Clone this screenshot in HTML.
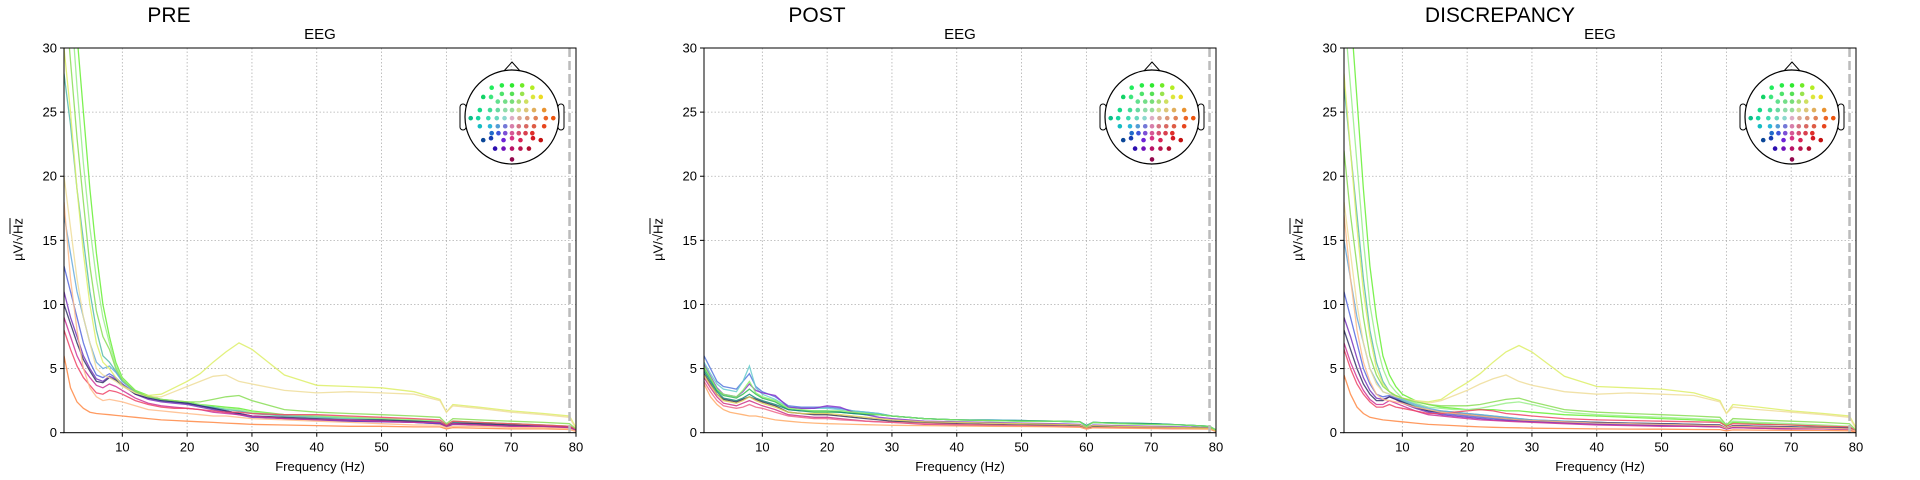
<!DOCTYPE html>
<html><head><meta charset="utf-8"><style>
body{margin:0;background:#fff;width:1920px;height:480px;overflow:hidden;font-family:"Liberation Sans",sans-serif}
svg{position:absolute;left:0;top:0}
.ylab{position:absolute;font-size:13px;transform:rotate(-90deg);transform-origin:center;white-space:nowrap;width:80px;text-align:center}
.ov{text-decoration:overline}
</style></head><body>
<svg id="chart" width="1920" height="480"></svg>
<div class="ylab" style="left:-22px;top:232px">µV/√<span class="ov">Hz</span></div>
<div class="ylab" style="left:618px;top:232px">µV/√<span class="ov">Hz</span></div>
<div class="ylab" style="left:1258px;top:232px">µV/√<span class="ov">Hz</span></div>
<script>
const freqs=[1,2,3,4,5,6,7,8,9,10,12,14,16,18,20,22,24,26,28,30,35,40,45,50,55,59,60,61,65,70,75,79,80];
const xTicks=[10,20,30,40,50,60,70,80];
const yTicks=[0,5,10,15,20,25,30];
const panelTitles=["PRE","POST","DISCREPANCY"];
const preColors=["#66ee33","#99ee88","#55bbaa","#66aadd","#5566dd","#7733bb","#333366","#cc3399","#ee4466","#ff8844","#ffbb88","#ddee66","#eedd99","#88dd55"];
const preValues=[
[45,38,31,25,19,14,10,7.5,5.5,4.3,3.3,2.9,2.6,2.5,2.4,2.2,2.1,2.0,1.9,1.7,1.4,1.3,1.2,1.1,1.0,0.9,0.6,0.9,0.8,0.7,0.6,0.5,0.3],
[40,34,27,21,16,12,9,7,5.2,4.2,3.2,2.8,2.6,2.5,2.3,2.2,2.0,1.9,1.8,1.6,1.4,1.3,1.2,1.1,1.0,0.9,0.6,0.8,0.8,0.7,0.6,0.5,0.2],
[28,24,19,15,11,8,6,5.5,4.8,4.0,3.2,2.8,2.6,2.4,2.3,2.1,2.0,1.8,1.7,1.5,1.3,1.2,1.1,1.0,0.9,0.8,0.5,0.8,0.7,0.6,0.5,0.4,0.2],
[17,14,11,9,7,5.5,5.0,5.2,4.7,4.0,3.2,2.8,2.5,2.4,2.3,2.1,1.9,1.7,1.5,1.3,1.1,1.0,0.9,0.9,0.8,0.7,0.5,0.7,0.6,0.5,0.5,0.4,0.2],
[13,11,9,7,5.5,4.5,4.3,4.6,4.3,3.8,3.1,2.7,2.5,2.4,2.3,2.1,1.9,1.7,1.5,1.3,1.1,1.0,0.9,0.9,0.8,0.7,0.5,0.7,0.6,0.5,0.5,0.4,0.2],
[11,9,7.5,6,5,4.2,4.0,4.4,4.2,3.8,3.0,2.6,2.4,2.3,2.2,2.0,1.8,1.6,1.4,1.2,1.1,1.0,0.9,0.85,0.8,0.7,0.45,0.65,0.6,0.5,0.45,0.4,0.2],
[10,8.5,7,5.7,4.8,4.0,3.9,4.3,4.1,3.7,3.0,2.7,2.5,2.4,2.3,2.1,1.9,1.7,1.5,1.3,1.2,1.1,1.0,1.0,0.9,0.8,0.5,0.75,0.7,0.6,0.5,0.45,0.2],
[9,7.5,6,5,4.3,3.7,3.5,3.8,3.6,3.3,2.7,2.3,2.1,2.0,1.9,1.8,1.6,1.5,1.4,1.3,1.1,1.0,1.0,0.9,0.8,0.8,0.5,0.7,0.6,0.5,0.5,0.4,0.2],
[8,6.5,5.2,4.3,3.7,3.1,3.0,3.3,3.2,3.0,2.5,2.2,2.0,1.9,1.9,1.8,1.7,1.6,1.6,1.5,1.4,1.4,1.3,1.2,1.1,1.0,0.6,0.9,0.8,0.7,0.6,0.5,0.3],
[6,3.5,2.4,1.9,1.6,1.5,1.45,1.4,1.35,1.3,1.2,1.1,1.0,0.95,0.9,0.85,0.8,0.75,0.7,0.65,0.6,0.55,0.5,0.5,0.45,0.45,0.3,0.4,0.35,0.3,0.3,0.25,0.1],
[18,12,8,5,3.5,2.8,2.5,2.6,2.5,2.4,2.1,1.8,1.7,1.6,1.5,1.4,1.3,1.3,1.2,1.1,1.0,0.9,0.8,0.7,0.6,0.6,0.4,0.5,0.5,0.4,0.4,0.3,0.1],
[30,25,19,14,10,7,5.5,5,4.3,3.7,3.1,2.9,3.0,3.5,4.0,4.6,5.5,6.3,7.0,6.5,4.5,3.7,3.6,3.5,3.2,2.6,1.6,2.2,2.0,1.7,1.5,1.3,0.4],
[20,16,12,9,7,5,4.5,4.3,4.0,3.6,3.1,2.8,2.8,3.2,3.6,4.0,4.4,4.5,4.0,3.8,3.3,3.1,3.2,3.1,3.0,2.5,1.6,2.1,1.9,1.6,1.4,1.2,0.3],
[35,29,23,18,13,9.5,7.5,6.5,5,4.1,3.2,2.8,2.6,2.5,2.4,2.4,2.6,2.8,2.9,2.5,1.8,1.6,1.5,1.4,1.3,1.2,0.7,1.1,1.0,0.9,0.8,0.7,0.3]];
const postColors=["#5577dd","#66cccc","#8833cc","#33bb55","#118877","#333355","#cc3388","#ee6688","#ffaa66","#ddcc55","#88ee66"];
const postValues=[
[6,5,4,3.6,3.5,3.4,4.0,4.6,3.6,3.2,2.8,2.1,2.0,2.0,2.0,1.9,1.7,1.6,1.5,1.3,1.1,1.0,1.0,0.95,0.9,0.85,0.55,0.8,0.75,0.7,0.6,0.5,0.2],
[5.5,4.6,3.8,3.4,3.3,3.2,4.0,5.2,3.5,3.0,2.6,2.0,1.9,1.9,1.9,1.8,1.7,1.6,1.5,1.3,1.1,1.0,1.0,0.95,0.9,0.85,0.5,0.8,0.7,0.65,0.6,0.5,0.2],
[5.3,4.4,3.5,3.0,2.9,2.8,3.2,3.8,3.3,3.1,2.9,2.0,1.9,1.9,2.1,2.0,1.6,1.4,1.2,1.1,0.9,0.85,0.8,0.75,0.7,0.65,0.4,0.6,0.55,0.5,0.45,0.4,0.15],
[5,4.2,3.3,2.9,2.8,2.7,3.0,3.4,3.0,2.7,2.4,1.8,1.7,1.6,1.6,1.6,1.5,1.5,1.4,1.3,1.1,1.0,0.95,0.9,0.9,0.85,0.5,0.8,0.75,0.7,0.6,0.5,0.2],
[4.8,4.0,3.2,2.7,2.6,2.5,2.7,3.0,2.7,2.5,2.2,1.8,1.7,1.7,1.7,1.6,1.5,1.4,1.4,1.3,1.1,1.0,0.95,0.95,0.9,0.85,0.55,0.8,0.75,0.7,0.6,0.5,0.2],
[4.6,3.8,3.0,2.6,2.5,2.4,2.6,2.8,2.6,2.4,2.1,1.6,1.5,1.4,1.4,1.3,1.2,1.1,1.0,0.9,0.8,0.7,0.65,0.6,0.6,0.55,0.35,0.5,0.45,0.4,0.4,0.35,0.1],
[4.3,3.5,2.8,2.3,2.2,2.1,2.3,2.5,2.3,2.1,1.8,1.4,1.3,1.2,1.2,1.1,1.0,0.9,0.85,0.8,0.65,0.6,0.55,0.5,0.5,0.45,0.3,0.4,0.4,0.35,0.3,0.3,0.1],
[4.0,3.2,2.5,2.1,2.0,1.9,2.0,2.2,2.0,1.9,1.6,1.3,1.2,1.1,1.1,1.0,0.95,0.9,0.85,0.8,0.7,0.65,0.6,0.55,0.5,0.45,0.3,0.4,0.4,0.35,0.3,0.3,0.1],
[3.8,2.8,2.2,1.8,1.6,1.5,1.4,1.3,1.3,1.2,1.0,0.9,0.8,0.75,0.7,0.68,0.65,0.62,0.6,0.58,0.55,0.52,0.5,0.48,0.45,0.42,0.28,0.38,0.35,0.32,0.3,0.28,0.1],
[4.5,3.7,3.0,2.5,2.4,2.3,2.5,2.8,2.5,2.3,2.0,1.6,1.5,1.5,1.5,1.4,1.3,1.2,1.1,1.0,0.85,0.8,0.75,0.7,0.65,0.6,0.4,0.55,0.5,0.45,0.4,0.35,0.15],
[5.2,4.3,3.4,3.0,2.9,2.8,3.3,4.0,3.1,2.8,2.5,1.9,1.8,1.7,1.7,1.7,1.6,1.5,1.4,1.3,1.1,1.0,0.95,0.9,0.9,0.85,0.5,0.8,0.7,0.65,0.6,0.5,0.2]];
const discColors=["#66ee33","#99ee88","#55bbaa","#66aadd","#5566dd","#7733bb","#333366","#cc3399","#ee4466","#ff8844","#ffbb88","#ddee66","#eedd99","#88dd55"];
const discValues=[
[40,33,26,19,13,9,6,4.5,3.6,3.0,2.5,2.2,2.0,1.9,1.8,1.8,1.8,1.7,1.7,1.6,1.4,1.3,1.2,1.1,1.0,0.9,0.5,0.8,0.7,0.6,0.5,0.4,0.1],
[33,27,21,15,10,7,5,3.8,3.2,2.7,2.3,2.0,1.9,1.8,1.8,1.9,2.1,2.3,2.4,2.2,1.6,1.4,1.3,1.2,1.1,1.0,0.6,0.9,0.8,0.7,0.6,0.5,0.2],
[27,22,17,12,8,5.5,4.0,3.2,2.8,2.5,2.1,1.8,1.7,1.6,1.5,1.4,1.3,1.2,1.1,1.0,0.9,0.8,0.75,0.7,0.65,0.6,0.35,0.55,0.5,0.45,0.4,0.35,0.1],
[15,12,9,7,5,4,3.2,3.0,2.8,2.6,2.2,1.9,1.7,1.6,1.5,1.4,1.3,1.2,1.1,1.0,0.9,0.8,0.75,0.7,0.65,0.6,0.35,0.55,0.5,0.45,0.4,0.35,0.1],
[11,9,7,5,3.8,3.0,2.8,2.9,2.7,2.4,2.0,1.7,1.5,1.4,1.3,1.2,1.1,1.0,0.95,0.9,0.8,0.7,0.65,0.6,0.55,0.5,0.3,0.45,0.4,0.35,0.3,0.3,0.1],
[9,7.5,5.8,4.3,3.3,2.7,2.6,2.8,2.6,2.3,1.9,1.6,1.4,1.3,1.2,1.1,1.0,0.95,0.9,0.85,0.75,0.65,0.6,0.55,0.5,0.45,0.3,0.4,0.35,0.3,0.3,0.25,0.1],
[8,6.5,5,3.8,3.0,2.5,2.5,2.8,2.6,2.4,2.0,1.7,1.6,1.5,1.4,1.3,1.2,1.1,1.0,0.95,0.85,0.8,0.75,0.7,0.65,0.6,0.35,0.55,0.5,0.45,0.4,0.35,0.1],
[7,5.5,4.3,3.3,2.6,2.2,2.2,2.5,2.3,2.1,1.7,1.4,1.3,1.2,1.1,1.0,0.95,0.9,0.85,0.8,0.7,0.6,0.55,0.5,0.5,0.45,0.3,0.4,0.35,0.3,0.3,0.25,0.1],
[6.5,5,3.8,3,2.4,2.0,2.0,2.2,2.0,1.9,1.7,1.5,1.5,1.6,1.7,1.8,1.7,1.5,1.4,1.3,1.1,1.0,0.95,0.9,0.85,0.8,0.5,0.7,0.65,0.6,0.5,0.45,0.15],
[4.5,3,2.0,1.5,1.2,1.1,1.0,0.95,0.9,0.85,0.75,0.65,0.6,0.55,0.5,0.45,0.42,0.4,0.38,0.35,0.33,0.3,0.28,0.27,0.25,0.24,0.15,0.22,0.2,0.18,0.17,0.15,0.05],
[17,12,8,5.5,4,3,2.6,2.5,2.4,2.3,2.0,1.8,1.6,1.5,1.4,1.3,1.2,1.1,1.0,0.95,0.85,0.75,0.7,0.65,0.6,0.55,0.35,0.5,0.45,0.4,0.35,0.3,0.1],
[28,22,16,11,7.5,5,3.8,3.2,2.9,2.7,2.5,2.4,2.6,3.3,3.9,4.6,5.5,6.3,6.8,6.3,4.4,3.6,3.5,3.4,3.1,2.5,1.5,2.2,2.0,1.7,1.5,1.3,0.4],
[18,14,10,7,5,3.8,3.2,3.0,2.8,2.7,2.5,2.3,2.5,2.9,3.3,3.8,4.2,4.5,4.0,3.7,3.2,3.0,3.1,3.0,2.9,2.4,1.5,2.0,1.8,1.6,1.4,1.2,0.3],
[22,17,13,9,6,4.5,3.6,3.2,2.9,2.7,2.4,2.2,2.1,2.1,2.1,2.2,2.4,2.6,2.7,2.4,1.8,1.6,1.5,1.4,1.3,1.2,0.6,1.1,1.0,0.9,0.8,0.7,0.2]];

const NS="http://www.w3.org/2000/svg";
const svg=document.getElementById('chart');
function mk(tag,attrs,parent){const e=document.createElementNS(NS,tag);for(const k in attrs)e.setAttribute(k,attrs[k]);(parent||svg).appendChild(e);return e;}
const panelLefts=[64,704,1344],W=512,TOP=48,BOT=432.7,XMIN=1,XMAX=80,YMAX=30;
const allValues=[preValues,postValues,discValues],allColors=[preColors,postColors,discColors];
const defs=mk('defs',{});
function sensorColor(x,y){
  const a=Math.atan2(x,y); const q=Math.PI/2; const aa=Math.abs(a);
  let h;
  if(a<0){h=aa<q?120+40*aa/q:160+140*(aa-q)/q;}
  else{h=aa<q?120-100*aa/q:20-50*(aa-q)/q;}
  h=(h+360)%360;
  const d=Math.min(1,Math.hypot(x/1.2,y));
  const s=40+50*d;
  let l=78-28*d; if(y<0)l-=18*(-y); if(a<0&&aa>0.6*q&&aa<1.5*q)l-=10*d;
  return `hsl(${h.toFixed(0)},${s.toFixed(0)}%,${l.toFixed(0)}%)`;
}
panelLefts.forEach((L,p)=>{
  const sx=f=>L+(f-XMIN)/(XMAX-XMIN)*W;
  const sy=v=>BOT-v/YMAX*(BOT-TOP);
  const g=mk('g',{});
  
  
  const cp=mk('clipPath',{id:'cp'+p},defs);mk('rect',{x:L,y:TOP,width:W,height:BOT-TOP},cp);
  xTicks.forEach(t=>{
    if(t<XMAX){const gl=mk('line',{x1:sx(t),x2:sx(t),y1:TOP,y2:BOT,stroke:'#b0b0b0','stroke-width':0.8,'stroke-dasharray':'1.5,2'},g);
    }
    mk('line',{x1:sx(t),x2:sx(t),y1:BOT,y2:BOT+4,stroke:'#000'},g);
    const tx=mk('text',{x:sx(t),y:BOT+19,'text-anchor':'middle','font-size':13},g);tx.textContent=t;
    
  });
  yTicks.forEach(t=>{
    if(t>0&&t<YMAX){const gl=mk('line',{x1:L,x2:L+W,y1:sy(t),y2:sy(t),stroke:'#b0b0b0','stroke-width':0.8,'stroke-dasharray':'1.5,2'},g);
    }
    mk('line',{x1:L-4,x2:L,y1:sy(t),y2:sy(t),stroke:'#000'},g);
    const tx=mk('text',{x:L-7,y:sy(t)+4.5,'text-anchor':'end','font-size':13},g);tx.textContent=t;
    
  });
  const lg=mk('g',{'clip-path':'url(#cp'+p+')'},g);
  allValues[p].forEach((vals,i)=>{
    const d=vals.map((v,j)=>(j?'L':'M')+sx(freqs[j]).toFixed(1)+','+sy(v).toFixed(1)).join('');
    const pl=mk('path',{d:d,fill:'none',stroke:allColors[p][i],'stroke-width':1.3,'stroke-opacity':0.85},lg);
    
  });
  const dl=mk('line',{x1:sx(79),x2:sx(79),y1:TOP,y2:BOT,stroke:'#bbb','stroke-width':2.5,'stroke-dasharray':'9,4'},g);
  
  const fr=mk('rect',{x:L,y:TOP,width:W,height:BOT-TOP,fill:'none',stroke:'#000','stroke-width':1},g);
  
  const st=mk('text',{x:L+W/2,y:39,'text-anchor':'middle','font-size':15},g);st.textContent='EEG';
  
  const pt=mk('text',{x:[169,817,1500][p],y:22,'text-anchor':'middle','font-size':21},g);pt.textContent=panelTitles[p];
  
  const xl=mk('text',{x:L+W/2,y:471,'text-anchor':'middle','font-size':13},g);xl.textContent='Frequency (Hz)';
  
  const cx=L+448,cy=117,r=47;
  const hg=mk('g',{},g);
  
  mk('path',{d:`M${cx-9},${cy-r+2} L${cx},${cy-r-8} L${cx+9},${cy-r+2}`,fill:'none',stroke:'#000','stroke-width':1},hg);
  mk('rect',{x:cx-r-5,y:cy-13,width:6,height:26,rx:3,fill:'#fff',stroke:'#000','stroke-width':1},hg);
  mk('rect',{x:cx+r-1,y:cy-13,width:6,height:26,rx:3,fill:'#fff',stroke:'#000','stroke-width':1},hg);
  mk('ellipse',{cx:cx,cy:cy,rx:r,ry:r,fill:'#fff',stroke:'#000','stroke-width':1.2},hg);
  const rows=[[0.82,[-0.3,0,0.3]],[0.76,[-0.6,0.6]],[0.6,[-0.3,0,0.3]],[0.52,[-0.85,-0.62,0.62,0.85]],
    [0.4,[-0.42,-0.2,0,0.2,0.42]],[0.18,[-0.95,-0.65,-0.42,-0.2,0,0.2,0.42,0.65,0.95]],
    [-0.03,[-1.22,-1.0,-0.7,-0.45,-0.22,0,0.22,0.45,0.7,1.0,1.22]],[-0.24,[-0.95,-0.65,-0.42,-0.2,0,0.2,0.42,0.65,0.95]],
    [-0.42,[-0.6,-0.4,-0.2,0,0.2,0.4,0.6]],[-0.6,[-0.85,-0.25,0.25,0.85]],[-0.55,[-0.62,0,0.62]],
    [-0.82,[-0.5,-0.25,0,0.25,0.5]],[-1.1,[0]]];
  rows.forEach(([y,xs])=>xs.forEach(x=>{
    const c=mk('circle',{cx:cx+x*r*0.72,cy:cy-y*r*0.82,r:2.3,fill:sensorColor(x,y)},hg);
    
  }));
});
</script>
</body></html>
